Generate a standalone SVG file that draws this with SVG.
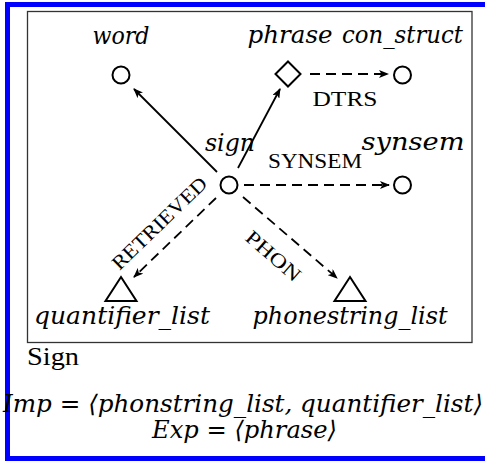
<svg xmlns="http://www.w3.org/2000/svg" width="485" height="461" viewBox="0 0 485 461">
<defs>
<marker id="ah" viewBox="0 0 10 8" refX="9" refY="4" markerWidth="10" markerHeight="8" markerUnits="userSpaceOnUse" orient="auto">
<path d="M0,0 L10,4 L0,8 L2.5,4 z" fill="#000"/>
</marker>
<style>
.m{font-family:"DejaVu Serif","Liberation Serif",serif;font-style:italic;font-size:24px;fill:#000}
.r{font-family:"Liberation Serif","DejaVu Serif",serif;font-size:20px;fill:#000}
.n{fill:#fff;stroke:#000;stroke-width:2}
.e{fill:none;stroke:#000;stroke-width:1.8}
.d{fill:none;stroke:#000;stroke-width:1.8;stroke-dasharray:10 6}
</style>
</defs>
<rect x="0" y="0" width="485" height="461" fill="#fff"/>
<path d="M600,4.5 H7.5 V458.5 H600" fill="none" stroke="#0000ff" stroke-width="5"/>
<rect x="27.5" y="11.5" width="444.5" height="331" fill="none" stroke="#333" stroke-width="1.3"/>

<g id="connectors">
<line class="e" x1="217" y1="172" x2="134" y2="89" marker-end="url(#ah)"/>
<line class="e" x1="238" y1="168" x2="280" y2="89" marker-end="url(#ah)"/>
<line class="d" x1="310" y1="74" x2="388" y2="74" marker-end="url(#ah)"/>
<line class="d" x1="244" y1="185" x2="389" y2="185" marker-end="url(#ah)"/>
<line class="d" x1="216" y1="198" x2="134" y2="277" marker-end="url(#ah)"/>
<line class="d" x1="243" y1="197" x2="337" y2="278" marker-end="url(#ah)"/>
<text class="r" x="0" y="0" text-anchor="middle" textLength="94" lengthAdjust="spacingAndGlyphs" transform="translate(315,168)">SYNSEM</text>
<text class="r" x="0" y="0" text-anchor="middle" textLength="65" lengthAdjust="spacingAndGlyphs" transform="translate(345,106)">DTRS</text>
<text class="r" x="0" y="0" text-anchor="middle" textLength="124" lengthAdjust="spacingAndGlyphs" transform="translate(164,228) rotate(-44)">RETRIEVED</text>
<text class="r" x="0" y="0" text-anchor="middle" textLength="66" lengthAdjust="spacingAndGlyphs" transform="translate(269,261) rotate(41)">PHON</text>
</g>

<g id="word">
<circle class="n" cx="121" cy="75" r="8.5"/>
<text class="m" x="121" y="44" text-anchor="middle" textLength="57" lengthAdjust="spacingAndGlyphs">word</text>
</g>
<g id="phrase">
<polygon class="n" points="288,61.5 300.5,74 288,86.5 275.5,74"/>
<text class="m" x="290" y="43" text-anchor="middle" textLength="85" lengthAdjust="spacingAndGlyphs">phrase</text>
</g>
<g id="con_struct">
<circle class="n" cx="402.5" cy="75" r="8.5"/>
<text class="m" x="402.5" y="43" text-anchor="middle" textLength="121" lengthAdjust="spacingAndGlyphs">con_struct</text>
</g>
<g id="sign">
<circle class="n" cx="229" cy="185" r="8.5"/>
<text class="m" x="230" y="151" text-anchor="middle" textLength="50" lengthAdjust="spacingAndGlyphs">sign</text>
</g>
<g id="synsem">
<circle class="n" cx="402.5" cy="185" r="8.5"/>
<text class="m" x="413" y="150" text-anchor="middle" textLength="103" lengthAdjust="spacingAndGlyphs">synsem</text>
</g>
<g id="quantifier_list">
<polygon class="n" points="121,277 136.5,301 105.5,301"/>
<text class="m" x="122" y="324" text-anchor="middle" textLength="176" lengthAdjust="spacingAndGlyphs">quantifier_list</text>
</g>
<g id="phonestring_list">
<polygon class="n" points="350,277 365.5,301 334.5,301"/>
<text class="m" x="350" y="324" text-anchor="middle" textLength="195" lengthAdjust="spacingAndGlyphs">phonestring_list</text>
</g>

<text x="27" y="365" font-family="Liberation Serif, DejaVu Serif, serif" font-size="26" textLength="52" lengthAdjust="spacingAndGlyphs">Sign</text>
<text class="m" x="243" y="412" text-anchor="middle" textLength="480" lengthAdjust="spacingAndGlyphs">Imp = ⟨phonstring_list, quantifier_list⟩</text>
<text class="m" x="244.5" y="438" text-anchor="middle" textLength="185" lengthAdjust="spacingAndGlyphs">Exp = ⟨phrase⟩</text>
</svg>
